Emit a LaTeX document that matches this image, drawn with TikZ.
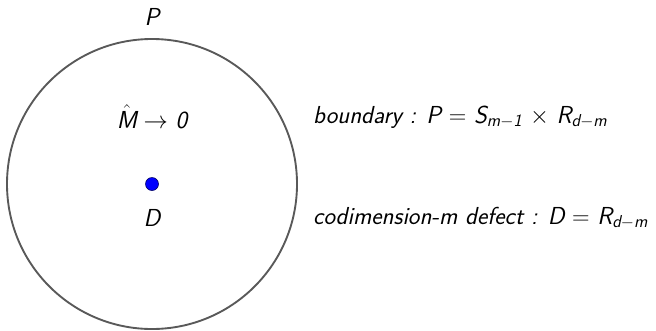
\documentclass[tikz,border=0pt]{standalone}
\usepackage{amsmath,amssymb}
\usetikzlibrary{positioning}
\newcommand{\si}[1]{\textsf{\itshape #1}}

\begin{document}
\begin{tikzpicture}[x=0.03cm, y=-0.03cm, every node/.style={font=\fontsize{21}{24}\selectfont\sffamily\itshape, inner sep=0pt}]
	\useasboundingbox (0,0) rectangle (656,330);
	\node[circle, draw=black!65, line width=1.6pt, minimum size=290*0.03cm] (bnd) at (152,184) {};
	\node[circle, fill=blue, draw=blue!40!black, line width=0.5pt, minimum size=13*0.03cm] (dot) at (152,184) {};
	\node (lblP) at (152,17) {P};
	\node (lblM) at (152,117) {$\hat{\text{\si{M}}}\rightarrow$ 0};
	\node (lblD) at (152,218) {D};
	\node[anchor=west] (bdry) at (313,117) {boundary : P $=$ S$_{\text{\si{m}}-\text{\si{1}}}$ $\times$ R$_{\text{\si{d}}-\text{\si{m}}}$};
	\node[anchor=west] (defect) at (313,218) {codimension-m defect : D $=$ R$_{\text{\si{d}}-\text{\si{m}}}$};
\end{tikzpicture}
\end{document}
